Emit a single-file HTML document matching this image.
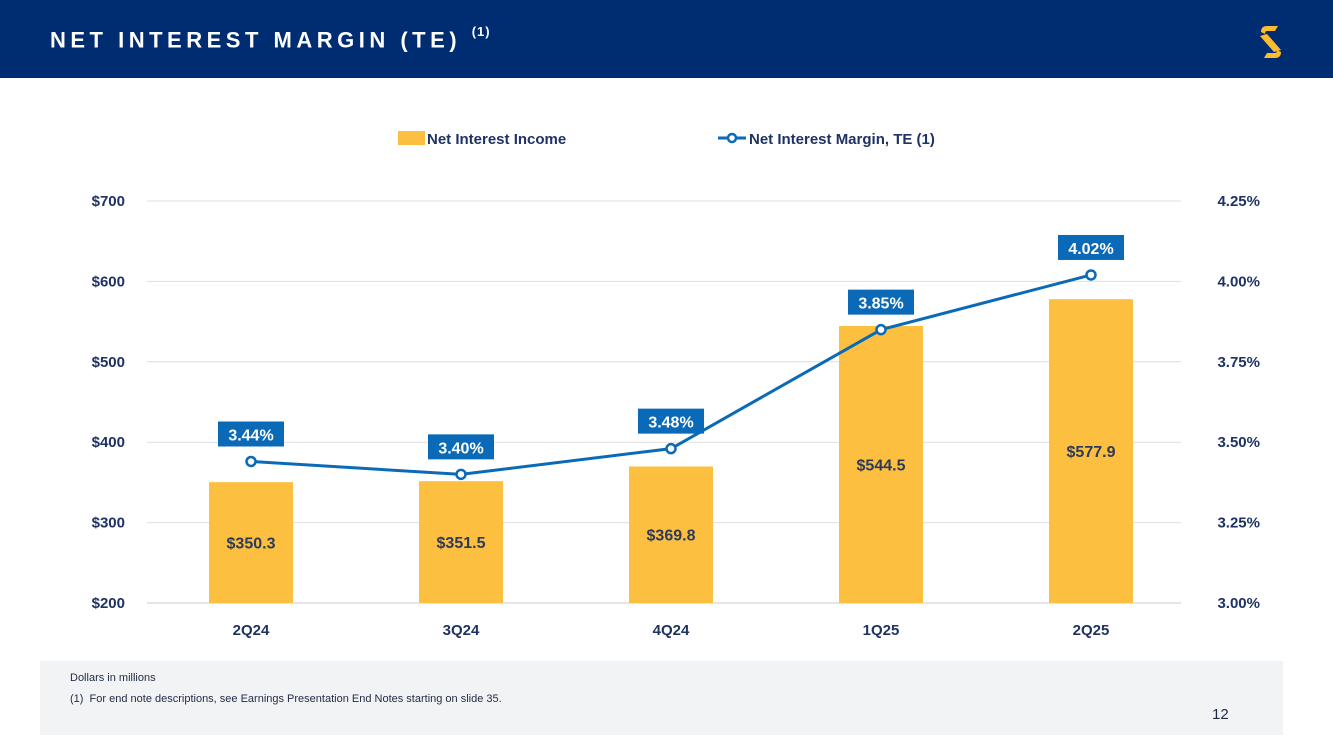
<!DOCTYPE html>
<html><head><meta charset="utf-8"><style>
body{margin:0;width:1333px;height:749px;background:#fff;position:relative;overflow:hidden;font-family:"Liberation Sans","DejaVu Sans",sans-serif}
#hdr{position:absolute;left:0;top:0;width:1333px;height:78px;background:#002d72}
#title{position:absolute;left:50px;top:27px;color:#fff;font-weight:bold;font-size:22px;letter-spacing:4.5px}
#title sup{font-size:13px;letter-spacing:1px;position:relative;top:-3px}
#foot{position:absolute;left:40px;top:661px;width:1243px;height:74px;background:#f2f3f5}
.fn{position:absolute;left:70px;font-size:11px;color:#1f2a44}
#pg{position:absolute;left:1212px;top:706px;font-size:15px;color:#1f2a44}
</style></head><body>
<div id="hdr">
<div id="title">NET INTEREST MARGIN (TE) <sup>(1)</sup></div>
<svg style="position:absolute;left:1256px;top:22px" width="30" height="40" viewBox="0 0 30 40">
<path d="M5 10 Q5 4 11 4 L22 4 L19 9 L11 9 Q9 9 9 12Z" fill="#fdbb30"/>
<path d="M4 14 L11 12 L25 28 L18 30Z" fill="#fdbb30"/>
<path d="M25 30 Q25 36 19 36 L8 36 L11 31 L19 31 Q21 31 21 28Z" fill="#fdbb30"/>
</svg>
</div>
<svg id="chart" width="1333" height="749" style="position:absolute;left:0;top:0"></svg>
<div id="foot"></div>
<div class="fn" style="top:672px">Dollars in millions</div>
<div class="fn" style="top:693px">(1)&nbsp; For end note descriptions, see Earnings Presentation End Notes starting on slide 35.</div>
<div id="pg">12</div>
<script>
const categories=["2Q24","3Q24","4Q24","1Q25","2Q25"];
const nii=[350.3,351.5,369.8,544.5,577.9];
const nim=[3.44,3.40,3.48,3.85,4.02];
const leftTicks=[200,300,400,500,600,700];
const rightTicks=[3.00,3.25,3.50,3.75,4.00,4.25];
const NS="http://www.w3.org/2000/svg";
const svg=document.getElementById('chart');
const X0=147,X1=1181,Y0=603,Y1=201;
const yL=v=>Y0-(v-200)/500*(Y0-Y1);
const yR=v=>Y0-(v-3)/1.25*(Y0-Y1);
const xC=i=>251+210*i;
function mk(t,a,txt){const e=document.createElementNS(NS,t);for(const k in a)e.setAttribute(k,a[k]);if(txt!==undefined)e.textContent=txt;svg.appendChild(e);return e;}
const F='"Liberation Sans",sans-serif';
leftTicks.forEach((v,i)=>{
 const g=mk('line',{x1:X0,x2:X1,y1:yL(v),y2:yL(v),stroke:i==0?'#c8ccd4':'#dcdfe4','stroke-width':1});
 
 
 const t=mk('text',{x:125,y:yL(v)+5,'text-anchor':'end','font-family':F,'font-size':15,'font-weight':'bold',fill:'#1f3264'},'$'+v);
 
 
});
rightTicks.forEach(v=>{
 const t=mk('text',{x:1260,y:yR(v)+5,'text-anchor':'end','font-family':F,'font-size':15,'font-weight':'bold',fill:'#1f3264'},v.toFixed(2)+'%');
 
 
});
categories.forEach((c,i)=>{
 const b=mk('rect',{x:xC(i)-42,y:yL(nii[i]),width:84,height:Y0-yL(nii[i]),fill:'#fdbf3f'});
 
 
 const bl=mk('text',{x:xC(i),y:(yL(nii[i])+Y0)/2+6,'text-anchor':'middle','font-family':F,'font-size':16,'font-weight':'bold',fill:'#2b3a5c'},'$'+nii[i].toFixed(1));
 
 
 const xl=mk('text',{x:xC(i),y:635,'text-anchor':'middle','font-family':F,'font-size':15,'font-weight':'bold',fill:'#1f3264'},c);
 
 
});
const pl=mk('polyline',{points:nim.map((v,i)=>xC(i)+','+yR(v)).join(' '),fill:'none',stroke:'#0a6ab8','stroke-width':3});


nim.forEach((v,i)=>{
 const p=mk('circle',{cx:xC(i),cy:yR(v),r:4.5,fill:'#fff',stroke:'#0a6ab8','stroke-width':2.5});
 
 
 const r=mk('rect',{x:xC(i)-33,y:yR(v)-40,width:66,height:25,fill:'#0a6ab8'});
 
 
 const t=mk('text',{x:xC(i),y:yR(v)-21,'text-anchor':'middle','font-family':F,'font-size':16,'font-weight':'bold',fill:'#fff'},v.toFixed(2)+'%');
 
 
});
const l1=mk('rect',{x:398,y:131,width:27,height:14,fill:'#fdbf3f'});


const l2=mk('text',{x:427,y:144,'font-family':F,'font-size':15,'font-weight':'bold',fill:'#1f3264'},'Net Interest Income');


const l3=mk('line',{x1:718,x2:746,y1:138,y2:138,stroke:'#0a6ab8','stroke-width':3});


const l4=mk('circle',{cx:732,cy:138,r:4,fill:'#fff',stroke:'#0a6ab8','stroke-width':2.5});


const l5=mk('text',{x:749,y:144,'font-family':F,'font-size':15,'font-weight':'bold',fill:'#1f3264'},'Net Interest Margin, TE (1)');


</script>
</body></html>
